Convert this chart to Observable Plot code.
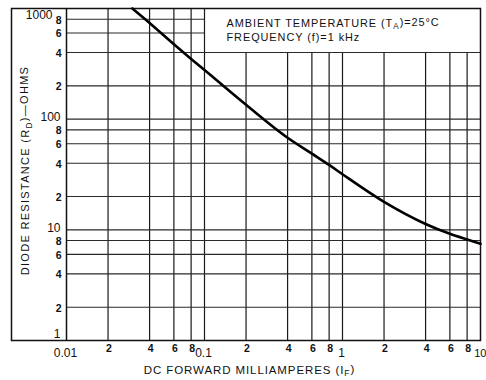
<!DOCTYPE html>
<html>
<head>
<meta charset="utf-8">
<script src="https://cdn.jsdelivr.net/npm/d3@7"></script>
<script src="https://cdn.jsdelivr.net/npm/@observablehq/plot@0.6"></script>
<style>
  html, body { margin: 0; padding: 0; background: #fff; }
  #chart svg { display: block; }
</style>
</head>
<body>
<div id="chart"></div>
<script>
// Curve: DC forward current (mA) vs diode resistance (ohms)
const currentMA = [0.03, 0.04, 0.06, 0.08, 0.1, 0.2, 0.4, 0.6, 0.8, 1, 2, 4, 6, 8, 10];
const resistance = [1000, 740, 475, 350, 278, 135, 68, 48.8, 38.6, 31.8, 17.9, 11.3, 9.2, 8.17, 7.48];

// Grid lines
const xGrid = [0.02, 0.04, 0.06, 0.08, 0.1, 0.2, 0.4, 0.6, 0.8, 1, 2, 4, 6, 8];
const yGrid = [2, 4, 6, 8, 10, 20, 40, 60, 80, 100, 200, 400, 600, 800];

// Tick labels
const xMinorValues = [0.02, 0.04, 0.06, 0.08, 0.2, 0.4, 0.6, 0.8, 2, 4, 6, 8];
const xMinorLabels = ["2", "4", "6", "8", "2", "4", "6", "8", "2", "4", "6", "8"];
const xMajorValues = [0.01, 0.1, 1];
const xMajorLabels = ["0.01", "0.1", "1"];
const xEndValue = 10, xEndLabel = "10";
const yMinorValues = [2, 4, 6, 8, 20, 40, 60, 80, 200, 400, 600, 800];
const yMinorLabels = ["2", "4", "6", "8", "2", "4", "6", "8", "2", "4", "6", "8"];
const yMajorValues = [10, 100];
const yMajorLabels = ["10", "100"];
const yBottomValue = 1, yBottomLabel = "1";
const yTopValue = 1000, yTopLabel = "1000";

// Texts
const xTitle = "DC FORWARD MILLIAMPERES (IF)";
const yTitle = "DIODE RESISTANCE (RD)\u2014OHMS";
const noteLines = ["AMBIENT TEMPERATURE (TA)=25\u00B0C", "FREQUENCY (f)=1 kHz"];

const curve = currentMA.map((x, i) => ({x, r: resistance[i]}));
const pair = (vals, labs) => vals.map((v, i) => ({v, label: labs[i]}));

const font = "'Liberation Sans', Arial, sans-serif";
const ink = "#111";

const chart = Plot.plot({
  width: 486,
  height: 380,
  marginLeft: 66,
  marginRight: 6,
  marginTop: 8,
  marginBottom: 40,
  style: {fontFamily: font, background: "#fff", color: ink},
  x: {type: "log", domain: [0.01, 10], axis: null},
  y: {type: "log", domain: [1, 1000], axis: null},
  marks: [
    // vertical grid (stops under the note box above 400 ohms)
    Plot.ruleX(xGrid, {x: d => d, y1: 1, y2: d => d <= 0.1 ? 1000 : 400, stroke: "#1a1a1a", strokeWidth: 1.2}),
    // horizontal grid
    Plot.ruleY(yGrid, {y: d => d, x1: 0.01, x2: d => d > 400 ? 0.1 : 10, stroke: "#2a2a2a", strokeWidth: 1.1}),
    // left axis line of the plot area
    Plot.ruleX([0.01], {y1: 1, y2: 1000, stroke: ink, strokeWidth: 1.5}),
    // outer frame (encloses y labels)
    Plot.frame({insetLeft: -55, stroke: ink, strokeWidth: 1.5}),
    // curve
    Plot.line(curve, {x: "x", y: "r", curve: "monotone-x", stroke: "#000", strokeWidth: 2.6}),
    // y tick labels
    Plot.text(pair(yMinorValues, yMinorLabels), {x: 0.01, y: "v", text: "label", textAnchor: "end", dx: -5, dy: 1, fontSize: 10.5, fontWeight: "bold", fill: ink}),
    Plot.text(pair(yMajorValues, yMajorLabels), {x: 0.01, y: "v", text: "label", textAnchor: "end", dx: -6, dy: -2, fontSize: 12, fill: ink}),
    Plot.text([{v: yBottomValue, label: yBottomLabel}], {x: 0.01, y: "v", text: "label", textAnchor: "end", dx: -6, dy: -6, fontSize: 12, fill: ink}),
    Plot.text([{v: yTopValue, label: yTopLabel}], {x: 0.01, y: "v", text: "label", textAnchor: "end", dx: -14, dy: 7, fontSize: 12, fill: ink}),
    // x tick labels
    Plot.text(pair(xMinorValues, xMinorLabels), {x: "v", y: 1, text: "label", dx: 1, dy: 8, fontSize: 10.5, fontWeight: "bold", fill: ink}),
    Plot.text(pair(xMajorValues, xMajorLabels), {x: "v", y: 1, text: "label", dx: -1, dy: 13, fontSize: 12, fill: ink}),
    Plot.text([{v: xEndValue, label: xEndLabel}], {x: "v", y: 1, text: "label", textAnchor: "end", dx: 6, dy: 13, fontSize: 11, fill: ink}),
    // note in the box
    Plot.text([noteLines[0]], {x: 0.1, y: 1000, text: d => d, textAnchor: "start", dx: 22, dy: 15, fontSize: 10.9, fill: ink}),
    Plot.text([noteLines[1]], {x: 0.1, y: 1000, text: d => d, textAnchor: "start", dx: 22, dy: 29, fontSize: 10.9, fill: ink}),
    // axis titles
    Plot.text([xTitle], {frameAnchor: "bottom", textAnchor: "middle", text: d => d, dx: -24, dy: 33, fontSize: 11.5, fill: ink}),
    Plot.text([yTitle], {frameAnchor: "left", textAnchor: "middle", text: d => d, dx: -41, dy: -4, rotate: -90, fontSize: 11, fill: ink})
  ]
});

document.getElementById("chart").appendChild(chart);

// letter spacing and subscripts in the titles
const svg = d3.select(chart);
const subMap = {"(IF)": ["I", "F"], "(RD)": ["R", "D"], "(TA)": ["T", "A"]};
svg.selectAll("text").each(function() {
  const el = d3.select(this);
  const t = this.textContent;
  if (t === xTitle) el.style("letter-spacing", "0.9px");
  if (t === yTitle) el.style("letter-spacing", "1.3px");
  if (noteLines.includes(t)) el.style("letter-spacing", "0.95px");
  for (const key in subMap) {
    const idx = t.indexOf(key);
    if (idx >= 0) {
      const [base, sub] = subMap[key];
      const before = t.slice(0, idx + 1) + base;
      const after = t.slice(idx + 3);
      this.textContent = "";
      el.append("tspan").text(before);
      el.append("tspan").attr("dy", "0.3em").attr("font-size", "0.75em").text(sub);
      el.append("tspan").attr("dy", "-0.3em").text(after);
      break;
    }
  }
});
</script>
</body>
</html>
